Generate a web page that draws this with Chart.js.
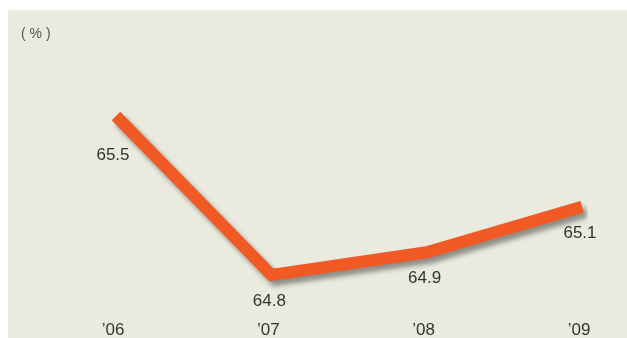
<!DOCTYPE html>
<html>
<head>
<meta charset="utf-8">
<script src="https://cdn.jsdelivr.net/npm/chart.js@4"></script>
<style>
  html, body { margin: 0; padding: 0; background: #fff; }
  #wrap { width: 627px; height: 338px; }
</style>
</head>
<body>
<div id="wrap"><canvas id="myChart" width="627" height="338"></canvas></div>
<script>
const years = ['\u201906', '\u201907', '\u201908', '\u201909'];
const ratio = [65.5, 64.8, 64.9, 65.1];
const unitLabel = '( % )';

const ctx = document.getElementById('myChart').getContext('2d');

const bgPlugin = {
    id: 'bg',
    beforeDraw(chart) {
        const c = chart.ctx;
        c.save();
        c.fillStyle = '#ffffff';
        c.fillRect(0, 0, chart.width, chart.height);
        c.fillStyle = '#ebeadf';
        c.fillRect(8, 10, chart.width - 8, chart.height - 10);
        c.fillStyle = '#555';
        c.font = '14px "Liberation Sans", Arial, sans-serif';
        c.textBaseline = 'alphabetic';
        c.fillText(unitLabel, 21, 38);
        c.restore();
    }
};

const shadowPlugin = {
    id: 'lineShadow',
    beforeDatasetDraw(chart) {
        const c = chart.ctx;
        c.save();
        c.shadowColor = 'rgba(0, 0, 0, 0.4)';
        c.shadowBlur = 5;
        c.shadowOffsetX = 4;
        c.shadowOffsetY = 5;
    },
    afterDatasetDraw(chart) {
        chart.ctx.restore();
    }
};

const valueLabels = {
    id: 'valueLabels',
    afterDatasetsDraw(chart) {
        const c = chart.ctx;
        const meta = chart.getDatasetMeta(0);
        c.save();
        c.fillStyle = '#333';
        c.font = '17px "Liberation Sans", Arial, sans-serif';
        c.textAlign = 'center';
        c.textBaseline = 'top';
        meta.data.forEach((pt, i) => {
            const dy = i === 0 ? 31 : 18;
            const dx = i === 0 ? -3 : -2;
            c.fillText(ratio[i].toFixed(1), pt.x + dx, pt.y + dy);
        });
        c.restore();
    }
};

const myChart = new Chart(ctx, {
    type: 'line',
    data: {
        labels: years,
        datasets: [{
            data: ratio,
            borderColor: '#f15a24',
            borderWidth: 12,
            borderCapStyle: 'butt',
            borderJoinStyle: 'miter',
            tension: 0,
            pointRadius: 0,
            pointHoverRadius: 0,
            fill: false
        }]
    },
    options: {
        responsive: false,
        animation: false,
        events: [],
        layout: {
            padding: { left: 116, right: 45, top: 93.3, bottom: 0 }
        },
        scales: {
            x: {
                offset: false,
                grid: { display: false, drawTicks: false },
                border: { display: false },
                ticks: {
                    color: '#333',
                    padding: 22,
                    labelOffset: -3,
                    font: { family: '"Liberation Sans", Arial, sans-serif', size: 17 }
                },
                afterFit(s) { s.height = 40.3; }
            },
            y: {
                display: false,
                min: 64.7,
                max: 65.6
            }
        },
        plugins: {
            legend: { display: false },
            tooltip: { enabled: false }
        }
    },
    plugins: [bgPlugin, shadowPlugin, valueLabels]
});
</script>
</body>
</html>
